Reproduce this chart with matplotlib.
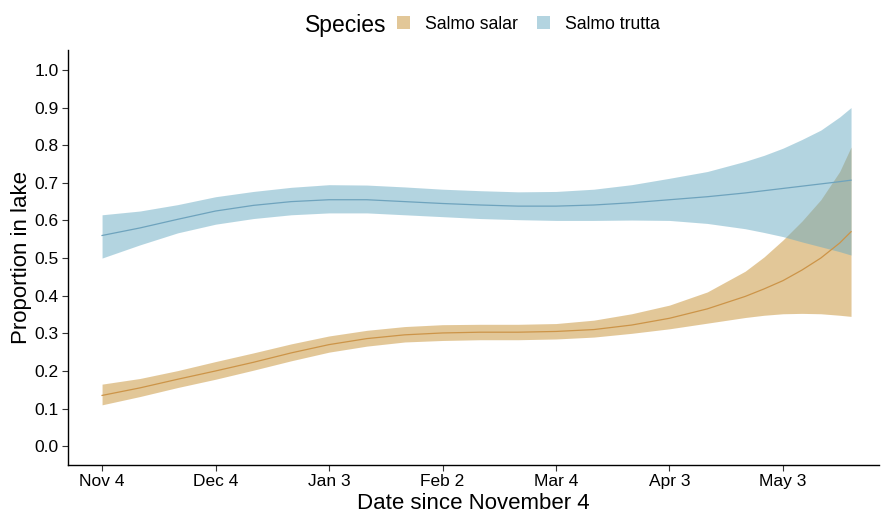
import matplotlib
matplotlib.use("Agg")
import matplotlib.pyplot as plt
from matplotlib.patches import Patch
import numpy as np

plt.rcParams['font.family'] = ['Liberation Sans', 'DejaVu Sans']

# days since November 4
days = [0, 10, 20, 30, 40, 50, 60, 70, 80, 90, 100, 110, 120, 130, 140, 150, 160, 170, 175, 180, 185, 190, 195, 198]

trutta_fit = [0.560, 0.580, 0.603, 0.625, 0.640, 0.650, 0.655, 0.655, 0.650, 0.645, 0.641, 0.638, 0.638, 0.641, 0.647, 0.655,
              0.663, 0.673, 0.679, 0.685, 0.691, 0.697, 0.703, 0.707]
trutta_lo = [0.500, 0.535, 0.567, 0.590, 0.605, 0.615, 0.620, 0.620, 0.615, 0.610, 0.605, 0.602, 0.600, 0.600, 0.601, 0.600,
             0.592, 0.578, 0.568, 0.557, 0.543, 0.530, 0.517, 0.508]
trutta_hi = [0.615, 0.625, 0.642, 0.663, 0.677, 0.688, 0.695, 0.694, 0.689, 0.683, 0.679, 0.676, 0.677, 0.683, 0.695, 0.712,
             0.730, 0.757, 0.773, 0.792, 0.815, 0.840, 0.875, 0.900]

salar_fit = [0.135, 0.155, 0.178, 0.200, 0.223, 0.248, 0.270, 0.286, 0.296, 0.301, 0.303, 0.303, 0.305, 0.310, 0.322, 0.340,
             0.365, 0.398, 0.418, 0.440, 0.468, 0.500, 0.540, 0.570]
salar_lo = [0.110, 0.132, 0.156, 0.178, 0.202, 0.227, 0.250, 0.266, 0.277, 0.281, 0.283, 0.283, 0.285, 0.290, 0.300, 0.312,
            0.327, 0.342, 0.348, 0.352, 0.353, 0.352, 0.348, 0.345]
salar_hi = [0.165, 0.180, 0.201, 0.225, 0.248, 0.272, 0.293, 0.308, 0.318, 0.323, 0.324, 0.324, 0.326, 0.335, 0.352, 0.375,
            0.410, 0.465, 0.503, 0.548, 0.598, 0.655, 0.730, 0.795]

tick_days = [0, 30, 60, 90, 120, 150, 180]
tick_labels = ["Nov 4", "Dec 4", "Jan 3", "Feb 2", "Mar 4", "Apr 3", "May 3"]
species = ["Salmo salar", "Salmo trutta"]

salar_col = "#C79133"
trutta_col = "#69ABC3"

fig = plt.figure(figsize=(8.81, 5.15), dpi=100)
ax = fig.add_axes([0.0772, 0.097, 0.921, 0.806])

ax.fill_between(days, salar_lo, salar_hi, color=salar_col, alpha=0.5, linewidth=0)
ax.fill_between(days, trutta_lo, trutta_hi, color=trutta_col, alpha=0.5, linewidth=0)
ax.plot(days, salar_fit, color="#CC9448", linewidth=0.9)
ax.plot(days, trutta_fit, color="#6EA3BD", linewidth=0.9)

ax.set_xlim(-9, 205.5)
ax.set_ylim(-0.05, 1.053)
ax.set_xticks(tick_days)
ax.set_xticklabels(tick_labels)
ax.set_yticks(np.arange(0, 1.01, 0.1))
ax.set_yticklabels(["%.1f" % v for v in np.arange(0, 1.01, 0.1)])
ax.tick_params(axis='both', labelsize=12.5, colors='#333333', labelcolor='black', length=4, width=0.8, pad=2.5)

for s in ['top', 'right']:
    ax.spines[s].set_visible(False)
for s in ['left', 'bottom']:
    ax.spines[s].set_linewidth(1.0)
    ax.spines[s].set_color('black')

ax.set_xlabel("Date since November 4", fontsize=16, labelpad=3)
ax.set_ylabel("Proportion in lake", fontsize=16, labelpad=2)

handles = [Patch(facecolor=salar_col, alpha=0.5, edgecolor='none'),
           Patch(facecolor=trutta_col, alpha=0.5, edgecolor='none')]
fig.text(0.346, 0.951, "Species", fontsize=16.5, ha='left', va='center')
fig.legend(handles, species, loc='center left', bbox_to_anchor=(0.4506, 0.953), ncol=2,
           frameon=False, fontsize=12.7, handlelength=0.75, handleheight=0.75,
           handletextpad=0.85, columnspacing=1.08, borderaxespad=0, borderpad=0)

fig.savefig("out.png", dpi=100)
